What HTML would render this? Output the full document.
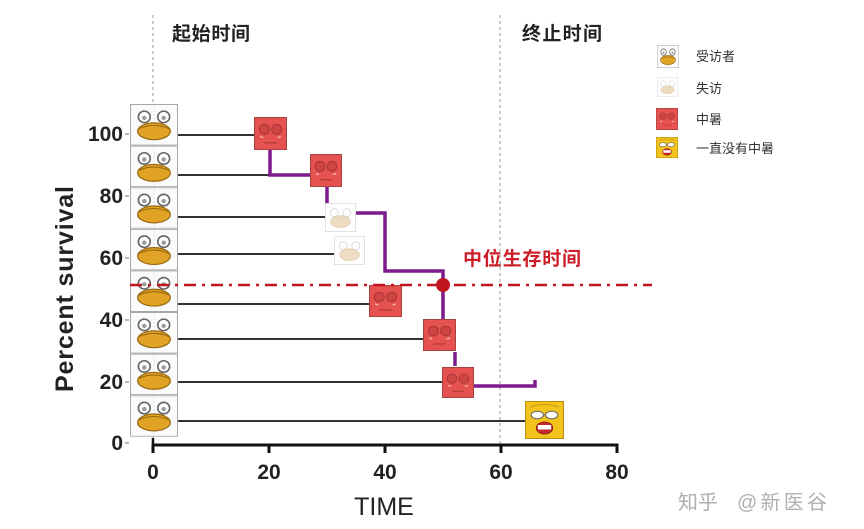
<!DOCTYPE html>
<html><head><meta charset="utf-8"><style>
html,body{margin:0;padding:0;background:#fff;}
svg{display:block;}
text{font-family:"Liberation Sans","Noto Sans CJK SC",sans-serif;}
</style></head><body>
<svg width="864" height="529" viewBox="0 0 864 529" xmlns="http://www.w3.org/2000/svg">
<defs>
<symbol id="frog" viewBox="0 0 47 42" preserveAspectRatio="none">
 <rect x="0.5" y="0.5" width="46" height="41" fill="#fbfbfb" stroke="#a8a8a8" stroke-width="1"/>
 <line x1="23.5" y1="2" x2="23.5" y2="40" stroke="#ddd" stroke-dasharray="2 2"/>
 <circle cx="14" cy="13" r="5.8" fill="#fff" stroke="#666" stroke-width="1.6"/>
 <circle cx="33" cy="13" r="5.8" fill="#fff" stroke="#666" stroke-width="1.6"/>
 <circle cx="14" cy="14" r="2.2" fill="#9a9a9a"/>
 <circle cx="33" cy="14" r="2.2" fill="#9a9a9a"/>
 <ellipse cx="23.5" cy="27.5" rx="16" ry="8.5" fill="#e1a326" stroke="#98680f" stroke-width="1.2"/>
 <path d="M8.5 25 Q23.5 18 38.5 25" stroke="#98680f" stroke-width="1.1" fill="none"/>
</symbol>
<symbol id="ffrog" viewBox="0 0 47 42" preserveAspectRatio="none">
 <rect x="0.5" y="0.5" width="46" height="41" fill="#fff" stroke="#ddd" stroke-width="1.5"/>
 <circle cx="14" cy="14" r="6" fill="#fff" stroke="#ddd" stroke-width="1.5"/>
 <circle cx="33" cy="14" r="6" fill="#fff" stroke="#ddd" stroke-width="1.5"/>
 <ellipse cx="23.5" cy="27" rx="15" ry="8.5" fill="#eddcc2" stroke="#ddc9a8" stroke-width="1"/>
</symbol>
<symbol id="red" viewBox="0 0 32 32" preserveAspectRatio="none">
 <rect x="0.5" y="0.5" width="31" height="31" fill="#e5524f" stroke="#a84242" stroke-width="1"/>
 <circle cx="10" cy="12" r="4.8" fill="#cf4444" stroke="#a83636" stroke-width="1"/>
 <circle cx="22" cy="12" r="4.8" fill="#cf4444" stroke="#a83636" stroke-width="1"/>
 <path d="M6 19 l3 1 M26 19 l-3 1" stroke="#f3c0bc" stroke-width="1.2"/>
 <line x1="10" y1="25" x2="22" y2="25" stroke="#b03a3a" stroke-width="1.2"/>
</symbol>
<symbol id="yel" viewBox="0 0 38 38" preserveAspectRatio="none">
 <rect x="0.5" y="0.5" width="37" height="37" fill="#f2c31c" stroke="#b88c10" stroke-width="1"/>
 <path d="M5 6 Q19 1 33 6" stroke="#c89a10" fill="none"/>
 <ellipse cx="12" cy="14" rx="6" ry="3.8" fill="#fff" stroke="#666" stroke-width="1"/>
 <ellipse cx="26" cy="14" rx="6" ry="3.8" fill="#fff" stroke="#666" stroke-width="1"/>
 <line x1="18" y1="14" x2="20" y2="14" stroke="#666"/>
 <ellipse cx="19" cy="27" rx="8" ry="6" fill="#c4282a" stroke="#8a1a1a" stroke-width="0.8"/>
 <rect x="12.5" y="24" width="13" height="4.5" fill="#fff"/>
</symbol>
</defs>

<!-- dashed vertical reference lines -->
<line x1="153" y1="15" x2="153" y2="445" stroke="#999" stroke-width="1" stroke-dasharray="3 3"/>
<line x1="500" y1="15" x2="500" y2="445" stroke="#999" stroke-width="1" stroke-dasharray="3 3"/>

<!-- titles -->
<text x="172" y="40" font-size="19" font-weight="bold" fill="#222" textLength="78">起始时间</text>
<text x="522" y="40" font-size="19" font-weight="bold" fill="#222" textLength="80">终止时间</text>

<!-- follow-up lines -->
<g stroke="#333" stroke-width="2">
 <line x1="178" y1="135" x2="256" y2="135"/>
 <line x1="178" y1="175" x2="311" y2="175"/>
 <line x1="178" y1="217" x2="336" y2="217"/>
 <line x1="178" y1="254" x2="348" y2="254"/>
 <line x1="178" y1="304" x2="370" y2="304"/>
 <line x1="178" y1="339" x2="424" y2="339"/>
 <line x1="178" y1="382" x2="443" y2="382"/>
 <line x1="178" y1="421" x2="526" y2="421"/>
</g>

<!-- KM curve -->
<g stroke="#7c1a8e" stroke-width="3.5" fill="none" stroke-linejoin="miter">
 <path d="M270 150 V175 H311"/>
 <path d="M327 187 V213 H385 V271 H443 V319"/>
 <path d="M455 352 V366"/>
 <path d="M474 386 H535 V380"/>
 <path d="M333 205 V213 M340 205 V213 M346 205 V213" stroke-width="2"/>
</g>

<!-- event icons -->
<use href="#red" x="254" y="117" width="33" height="33"/>
<use href="#red" x="310" y="154" width="32" height="33"/>
<use href="#ffrog" x="325" y="203" width="31" height="29"/>
<use href="#ffrog" x="334" y="236" width="31" height="29"/>
<use href="#red" x="369" y="285" width="33" height="32"/>
<use href="#red" x="423" y="319" width="33" height="32"/>
<use href="#red" x="442" y="367" width="32" height="31"/>
<use href="#yel" x="525" y="401" width="39" height="38"/>

<!-- frog column -->
<use href="#frog" x="130" y="104" width="48" height="41.6"/>
<use href="#frog" x="130" y="145.6" width="48" height="41.6"/>
<use href="#frog" x="130" y="187.2" width="48" height="41.6"/>
<use href="#frog" x="130" y="228.8" width="48" height="41.6"/>
<use href="#frog" x="130" y="270.4" width="48" height="41.6"/>
<use href="#frog" x="130" y="312" width="48" height="41.6"/>
<use href="#frog" x="130" y="353.6" width="48" height="41.6"/>
<use href="#frog" x="130" y="395.2" width="48" height="41.6"/>

<!-- median line -->
<line x1="130" y1="285" x2="652" y2="285" stroke="#c0141e" stroke-width="2.5" stroke-dasharray="12 6 3 6"/>
<circle cx="443" cy="285" r="7" fill="#c0141e"/>
<text x="463" y="265" font-size="19" font-weight="bold" fill="#cc1f2a" textLength="118">中位生存时间</text>

<!-- y ticks -->
<g stroke="#888" stroke-width="1.2">
 <line x1="125" y1="134" x2="129" y2="134"/>
 <line x1="125" y1="196" x2="129" y2="196"/>
 <line x1="125" y1="258" x2="129" y2="258"/>
 <line x1="125" y1="320" x2="129" y2="320"/>
 <line x1="125" y1="382" x2="129" y2="382"/>
 <line x1="125" y1="443" x2="129" y2="443"/>
</g>
<g font-size="21" font-weight="bold" fill="#222" text-anchor="end">
 <text x="123" y="141">100</text>
 <text x="123" y="203">80</text>
 <text x="123" y="265">60</text>
 <text x="123" y="327">40</text>
 <text x="123" y="389">20</text>
 <text x="123" y="450">0</text>
</g>
<text transform="translate(73,289) rotate(-90)" font-size="25" font-weight="bold" fill="#222" text-anchor="middle" textLength="206">Percent survival</text>

<!-- x axis -->
<line x1="153" y1="438" x2="153" y2="446" stroke="#111" stroke-width="2.5"/>
<line x1="151.5" y1="445" x2="618.5" y2="445" stroke="#111" stroke-width="3"/>
<g stroke="#111" stroke-width="3">
 <line x1="153" y1="445" x2="153" y2="453"/>
 <line x1="269" y1="445" x2="269" y2="453"/>
 <line x1="385" y1="445" x2="385" y2="453"/>
 <line x1="501" y1="445" x2="501" y2="453"/>
 <line x1="617" y1="445" x2="617" y2="453"/>
</g>
<g font-size="21" font-weight="bold" fill="#222" text-anchor="middle">
 <text x="153" y="479">0</text>
 <text x="269" y="479">20</text>
 <text x="385" y="479">40</text>
 <text x="501" y="479">60</text>
 <text x="617" y="479">80</text>
</g>
<text x="384" y="515" font-size="25" fill="#222" text-anchor="middle">TIME</text>

<!-- legend -->
<use href="#frog" x="657" y="45" width="22" height="23"/>
<use href="#ffrog" x="657" y="77" width="21" height="20"/>
<use href="#red" x="656" y="108" width="22" height="22"/>
<use href="#yel" x="656" y="137" width="22" height="21"/>
<g font-size="13" fill="#333">
 <text x="696" y="61">受访者</text>
 <text x="696" y="93">失访</text>
 <text x="696" y="124">中暑</text>
 <text x="696" y="153">一直没有中暑</text>
</g>

<!-- watermark -->
<text x="678" y="509" font-size="20" fill="#b0b0b0">知乎</text>
<text x="737" y="509" font-size="20" fill="#b0b0b0" textLength="90">@新医谷</text>
</svg>
</body></html>
